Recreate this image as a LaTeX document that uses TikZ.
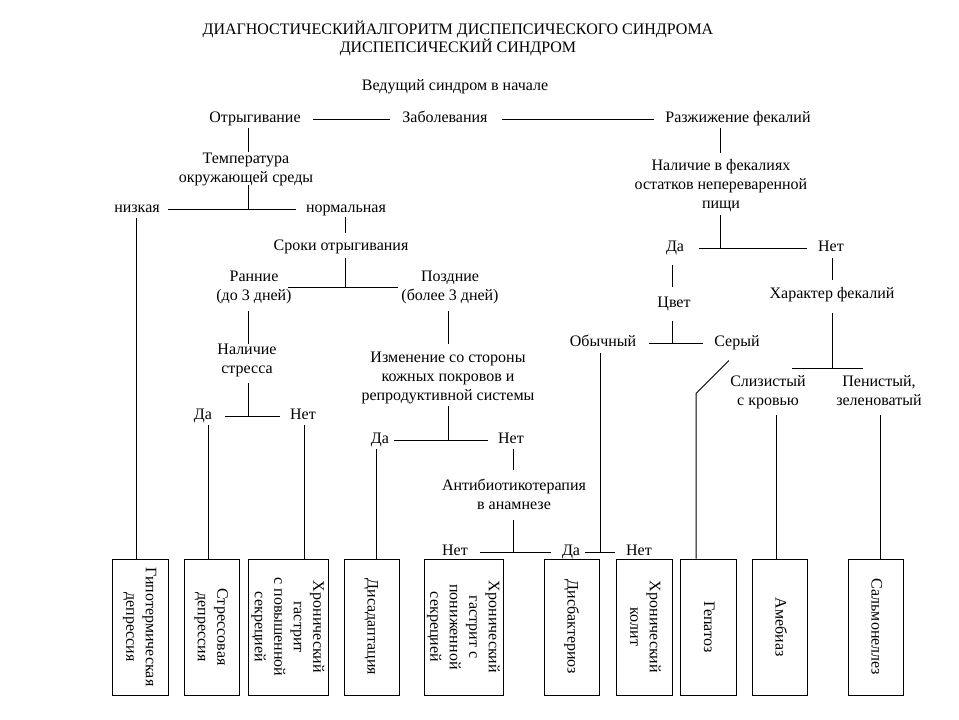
\documentclass[tikz,border=0pt]{standalone}
\usepackage{fontspec}
\setmainfont{Liberation Serif}
\usepackage{graphicx}
\usetikzlibrary{calc}
\newcommand{\vt}[1]{\rotatebox{-90}{\begin{tabular}{@{}c@{}}#1\end{tabular}}}
\begin{document}
\begin{tikzpicture}[x=0.75pt,y=-0.75pt,line width=0.75pt,
  lbl/.style={inner sep=0pt,align=center,font=\fontsize{12}{14.25}\selectfont,
    execute at begin node=\strut,execute at end node=\strut},
  box/.style={draw,line width=0.75pt,inner sep=0pt,minimum height=102pt,font=\fontsize{12}{14.6}\selectfont}]
\useasboundingbox (0,0) rectangle (959,719);
\fill[white] (0,0) rectangle (959,719);
% texts
\node[lbl,font=\fontsize{12}{13.5}\selectfont] (title) at (458,39) {ДИАГНОСТИЧЕСКИЙАЛГОРИТМ ДИСПЕПСИЧЕСКОГО СИНДРОМА\\ДИСПЕПСИЧЕСКИЙ СИНДРОМ};
\node[lbl] (ved) at (455,87) {Ведущий синдром в начале};
\node[lbl] (otr) at (255,119) {Отрыгивание};
\node[lbl] (zab) at (445,119) {Заболевания};
\node[lbl] (razh) at (738,119) {Разжижение фекалий};
\node[lbl] (temp) at (246,170.5) {Температура\\окружающей среды};
\node[lbl] (nizk) at (137,209) {низкая};
\node[lbl] (norm) at (346,209) {нормальная};
\node[lbl] (sroki) at (341,247) {Сроки отрыгивания};
\node[lbl] (rann) at (254,288.5) {Ранние\\(до 3 дней)};
\node[lbl] (pozd) at (450,288.5) {Поздние\\(более 3 дней)};
\node[lbl] (stress) at (247,361.5) {Наличие\\стресса};
\node[lbl] (da2) at (203,416) {Да};
\node[lbl] (net2) at (303,416) {Нет};
\node[lbl] (izm) at (448,379) {Изменение со стороны\\кожных покровов и\\репродуктивной системы};
\node[lbl] (da3) at (380,440) {Да};
\node[lbl] (net3) at (511,440) {Нет};
\node[lbl] (anti) at (514,497.5) {Антибиотикотерапия\\в анамнезе};
\node[lbl] (net4) at (455,552) {Нет};
\node[lbl] (da4) at (571,552) {Да};
\node[lbl] (net5) at (639,552) {Нет};
\node[lbl] (nal) at (721,186.5) {Наличие в фекалиях\\остатков непереваренной\\пищи};
\node[lbl] (da1) at (675,248) {Да};
\node[lbl] (net1) at (831,248) {Нет};
\node[lbl] (cvet) at (674,304) {Цвет};
\node[lbl] (har) at (832,295) {Характер фекалий};
\node[lbl] (obych) at (603,343) {Обычный};
\node[lbl] (ser) at (737,343) {Серый};
\node[lbl] (sliz) at (768,393) {Слизистый\\с кровью};
\node[lbl] (pen) at (879,393) {Пенистый,\\зеленоватый};
% boxes
\node[box,minimum width=42pt] (b1) at (140,627) {\vt{Гипотермическая\\депрессия}};
\node[box,minimum width=41.25pt] (b2) at (211.5,627) {\vt{Стрессовая\\депрессия}};
\node[box,minimum width=60pt] (b3) at (288,627) {\vt{Хронический\\гастрит\\с повышенной\\секрецией}};
\node[box,minimum width=41.25pt] (b4) at (371.5,627) {\vt{Дисадаптация}};
\node[box,minimum width=59.25pt] (b5) at (463.5,627) {\vt{Хронический\\гастрит с\\пониженной\\секрецией}};
\node[box,minimum width=41.25pt] (b6) at (571.5,627) {\vt{Дисбактериоз}};
\node[box,minimum width=42pt] (b7) at (644,627) {\vt{Хронический\\колит}};
\node[box,minimum width=42pt] (b8) at (708,627) {\vt{Гепатоз}};
\node[box,minimum width=41.25pt] (b9) at (779.5,627) {\vt{Амебиаз}};
\node[box,minimum width=41.25pt] (b10) at (875.5,627) {\vt{Сальмонеллез}};
% top row
\draw ($(otr.east)+(12,0)$) -- ($(zab.west)+(-12,0)$);
\draw ($(zab.east)+(14,0)$) -- ($(razh.west)+(-11,0)$);
% left branch
\draw ($(temp.north |- otr.south)+(2,-1.5)$) -- ($(temp.north)+(2,0)$);
\draw ($(temp.south)+(2,-3.5)$) -- ($(temp.south |- nizk.east)+(2,0)$);
\draw ($(nizk.east)+(8,0)$) -- ($(norm.west)+(-10,0)$);
\draw ($(nizk.south)+(-1,-1.5)$) -- ($(nizk.south |- b1.north)+(-1,0)$);
\draw ($(sroki.north |- norm.south)+(4,-2.5)$) -- ($(sroki.north)+(4,-4.5)$);
\draw ($(sroki.south)+(4,0.5)$) -- ($(sroki.south |- rann.east)+(4,-1.5)$);
\draw ($(rann.east)+(-4,-1.5)$) -- ($(pozd.west)+(-3,-1.5)$);
\draw ($(stress.north |- rann.south)+(1,4.5)$) -- ($(stress.north)+(1,0.5)$);
\draw ($(stress.south)+(1,3.5)$) -- ($(stress.south |- da2.east)+(1,0)$);
\draw ($(da2.east)+(12,0)$) -- ($(net2.west)+(-10,0)$);
\draw ($(da2.south)+(5,-1.5)$) -- ($(da2.south |- b2.north)+(5,0)$);
\draw ($(net2.south)+(1,-1.5)$) -- ($(net2.south |- b3.north)+(1,0)$);
\draw ($(izm.north |- pozd.south)+(0,4.5)$) -- ($(izm.north)+(0,-7.5)$);
\draw ($(izm.south)+(0,-0.5)$) -- ($(izm.south |- da3.east)+(0,0)$);
\draw ($(da3.east)+(4,0)$) -- ($(net3.west)+(-10,0)$);
\draw ($(da3.south)+(-4,-1.5)$) -- ($(da3.south |- b4.north)+(-4,0)$);
\draw ($(anti.north |- net3.south)+(-1,-1.5)$) -- ($(anti.north)+(-1,-8.5)$);
\draw ($(anti.south)+(-1,3.5)$) -- ($(anti.south |- net4.east)+(-1,0)$);
\draw ($(net4.east)+(12,0)$) -- ($(da4.west)+(-11,0)$);
\draw ($(da4.east)+(4,0)$) -- ($(net5.west)+(-11,0)$);
% right branch
\draw ($(nal.north |- razh.south)+(-1,-1.5)$) -- ($(nal.north)+(-1,-6)$);
\draw ($(nal.south)+(-1,1)$) -- ($(nal.south |- da1.east)+(-1,0)$);
\draw ($(da1.east)+(14,0)$) -- ($(net1.west)+(-11,0)$);
\draw ($(cvet.north |- da1.south)+(-2,6.5)$) -- ($(cvet.north)+(-2,-7.5)$);
\draw ($(cvet.south)+(-2,6.5)$) -- ($(cvet.south |- obych.east)+(-2,0)$);
\draw ($(obych.east)+(12,0)$) -- ($(ser.west)+(-11,0)$);
\draw ($(obych.south)+(-3,-0.5)$) -- ($(obych.south |- da4.east)+(-3,0)$);
\coordinate (sk) at ($(ser.south)+(-41,40.5)$);
\draw ($(ser.south)+(-8,7.5)$) -- (sk) -- (sk |- b8.north);
\draw ($(har.north |- net1.south)+(0,-0.5)$) -- ($(har.north)+(0,-5.5)$);
\coordinate (jh) at ($(har.south |- sliz.north)+(0,-6)$);
\draw ($(har.south)+(0,7.5)$) -- (jh);
\draw ($(jh)+(-40,0)$) -- ($(jh)+(31,0)$);
\draw ($(sliz.south)+(8,4)$) -- ($(sliz.south |- b9.north)+(8,0)$);
\draw ($(pen.south)+(1,4)$) -- ($(pen.south |- b10.north)+(1,0)$);
\end{tikzpicture}
\end{document}
